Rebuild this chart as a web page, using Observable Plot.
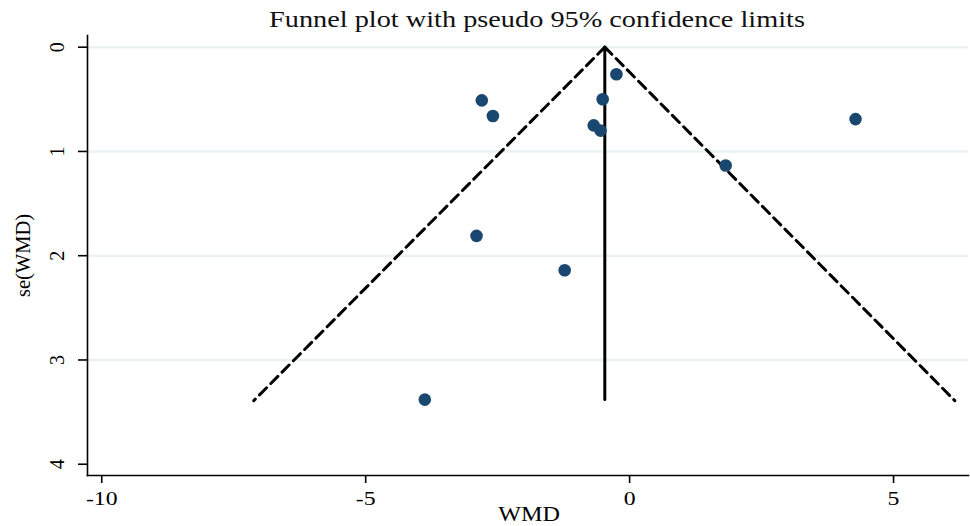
<!DOCTYPE html>
<html>
<head>
<meta charset="utf-8">
<script src="https://cdn.jsdelivr.net/npm/d3@7"></script>
<script src="https://cdn.jsdelivr.net/npm/@observablehq/plot@0.6"></script>
<style>
  body { margin: 0; background: #fff; }
  #wrap { position: relative; width: 970px; height: 526px; overflow: hidden; }
  #title { position: absolute; top: 8px; left: 0; width: 1074px; text-align: center;
           font-family: "Liberation Serif", "DejaVu Serif", serif; font-size: 23px; line-height: 23px;
           color: #111; transform: scaleX(1.23); transform-origin: 537px center; z-index: 2; }
  #chart { position: absolute; top: 0; left: 0; }
  svg { font-family: "Liberation Serif", "DejaVu Serif", serif; }
</style>
</head>
<body>
<div id="wrap">
  <div id="chart"></div>
  <div id="title">Funnel plot with pseudo 95% confidence limits</div>
</div>
<script>
// Study estimates (WMD) and their standard errors
const wmd = [-0.25, -0.51, -2.80, -2.59, -0.68, -0.55, 4.28, 1.82, -2.90, -1.23, -3.88];
const seWmd = [0.26, 0.50, 0.51, 0.66, 0.75, 0.80, 0.69, 1.135, 1.81, 2.14, 3.38];

// Pooled estimate line and pseudo 95% limits
const pooledX = [-0.47, -0.47];
const pooledSe = [0, 3.38];
const lowerX = [-0.47, -7.12];
const upperX = [-0.47, 6.16];
const limitSe = [0, 3.39];

const xTicks = [-10, -5, 0, 5];
const yTicks = [0, 1, 2, 3, 4];
const gridTicks = [0, 1, 2, 3];

const points = wmd.map((x, i) => ({x, se: seWmd[i]}));
const pooled = pooledX.map((x, i) => ({x, se: pooledSe[i]}));
const lower = lowerX.map((x, i) => ({x, se: limitSe[i]}));
const upper = upperX.map((x, i) => ({x, se: limitSe[i]}));

const font = "Liberation Serif";
const chart = Plot.plot({
  width: 970,
  height: 526,
  marginLeft: 87,
  marginRight: 2,
  marginTop: 35,
  marginBottom: 51,
  style: {fontFamily: font, background: "#fff"},
  x: {domain: [-10.27, 6.42]},
  y: {domain: [-0.112, 4.108], reverse: true},
  marks: [
    Plot.ruleY(gridTicks, {y: d => d, stroke: "#eaf2f3", strokeWidth: 2.5}),
    Plot.line(lower, {x: "x", y: "se", stroke: "#000", strokeWidth: 3, strokeDasharray: "10,6"}),
    Plot.line(upper, {x: "x", y: "se", stroke: "#000", strokeWidth: 3, strokeDasharray: "10,6"}),
    Plot.line(pooled, {x: "x", y: "se", stroke: "#000", strokeWidth: 3}),
    Plot.dot(points, {x: "x", y: "se", r: 6.3, fill: "#1a476f", stroke: null}),
    Plot.frame({anchor: "left", stroke: "#000", strokeWidth: 1.6}),
    Plot.frame({anchor: "bottom", stroke: "#000", strokeWidth: 1.6}),
    Plot.axisX({ticks: xTicks, tickSize: 8, tickPadding: 8, fontSize: 19, tickFormat: d => String(d), label: null, strokeWidth: 1.6, color: "#000"}),
    Plot.axisY({ticks: yTicks, tickSize: 9, tickFormat: () => "", label: null, strokeWidth: 1.6, color: "#000"}),
    Plot.text(yTicks, {y: d => d, text: d => String(d), frameAnchor: "left", dx: -30, rotate: -90, textAnchor: "middle", lineAnchor: "middle", fontSize: 20, fill: "#000"}),
    Plot.text(["se(WMD)"], {frameAnchor: "left", dx: -64, rotate: -90, textAnchor: "middle", lineAnchor: "middle", fontSize: 20.5, fill: "#000"}),
    Plot.text(["WMD"], {frameAnchor: "bottom", dx: 1, dy: 45, textAnchor: "middle", lineAnchor: "bottom", fontSize: 21, fill: "#000"})
  ]
});
document.getElementById("chart").appendChild(chart);

// Widen horizontal texts slightly, as in the reference rendering
function stretch(selector, factor) {
  chart.querySelectorAll(selector).forEach(t => {
    const len = t.getComputedTextLength();
    if (len > 0) {
      t.setAttribute("textLength", len * factor);
      t.setAttribute("lengthAdjust", "spacingAndGlyphs");
    }
  });
}
stretch("g[aria-label='x-axis tick label'] text", 1.25);
stretch("g[aria-label='text'] text:not([transform*='rotate'])", 1.15);
</script>
</body>
</html>
